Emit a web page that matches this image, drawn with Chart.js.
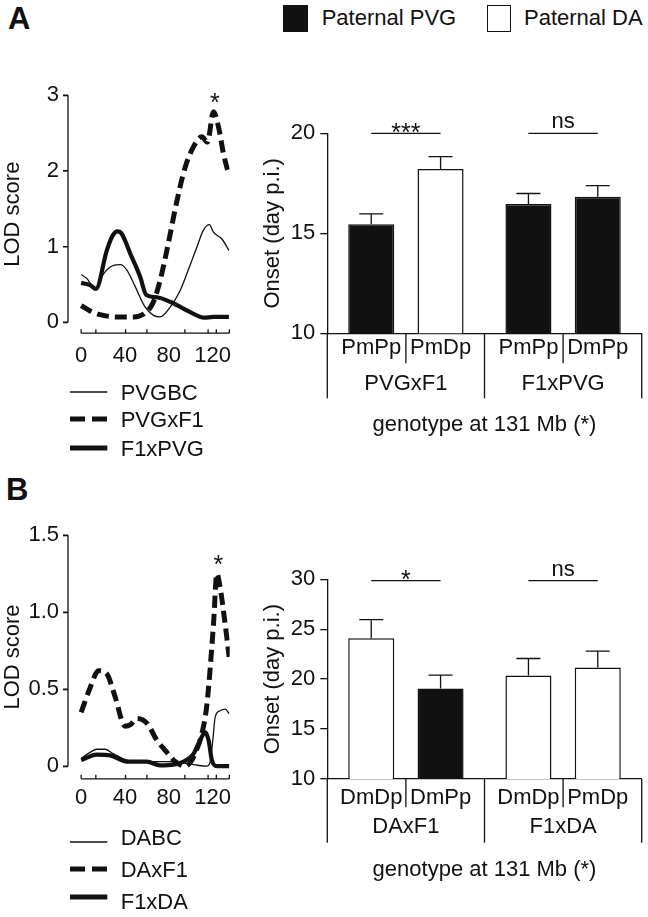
<!DOCTYPE html>
<html>
<head>
<meta charset="utf-8">
<title>LOD score and onset by genotype</title>
<script src="https://cdn.jsdelivr.net/npm/chart.js@4.4.1/dist/chart.umd.min.js"></script>
<style>
html,body{margin:0;padding:0;background:#fff}
body{position:relative;width:648px;height:917px;overflow:hidden;font-family:"Liberation Sans",Arial,Helvetica,sans-serif;color:#111}
.abs{position:absolute}
.txt{position:absolute;font-size:22px;line-height:1;white-space:nowrap}
.panel{position:absolute;font-weight:bold;font-size:31px;line-height:1}
canvas{position:absolute;display:block}
#err{position:absolute;left:250px;top:470px;font-size:11px;color:red;width:390px;white-space:normal}
</style>
</head>
<body>
<div class="panel" style="left:8px;top:3px">A</div>
<div class="panel" style="left:6px;top:474px">B</div>
<div class="abs" style="left:283px;top:5px;width:25px;height:26.5px;background:#111"></div>
<div class="txt" style="left:321.7px;top:6.75px">Paternal PVG</div>
<div class="abs" style="left:486.5px;top:5px;width:24px;height:26.5px;box-sizing:border-box;border:1.5px solid #111;background:#fff"></div>
<div class="txt" style="left:524px;top:6.75px">Paternal DA</div>

<canvas id="lodA" width="245" height="300" style="left:0;top:77.8px;width:245px;height:300px"></canvas>
<canvas id="lodAaxes" width="245" height="300" style="left:0;top:77.8px;width:245px;height:300px;pointer-events:none"></canvas>
<canvas id="onsetA" width="398" height="345" style="left:250px;top:100px;width:398px;height:345px"></canvas>
<canvas id="lodB" width="245" height="300" style="left:0;top:517.5px;width:245px;height:300px"></canvas>
<canvas id="lodBaxes" width="245" height="300" style="left:0;top:517.5px;width:245px;height:300px;pointer-events:none"></canvas>
<canvas id="onsetB" width="398" height="350" style="left:250px;top:540px;width:398px;height:350px"></canvas>
<div id="legends"></div>

<script>
// ================= DATA =================
// marker positions on the chromosome (Mb) and axis tick labels
const markerMb   = [0, 13.4, 40.5, 60, 94.6, 115.8, 123.3, 135.2];
const mbTicks    = [0, 40, 80, 120];
const lodTicksA  = [0, 1, 2, 3];
const lodTicksB  = [0, 0.5, 1.0, 1.5];
const onsetTicksA = [10, 15, 20];
const onsetTicksB = [10, 15, 20, 25, 30];

// Panel A – LOD curves
const seriesA = ['PVGBC', 'PVGxF1', 'F1xPVG'];
const pvgbcMb  = [0, 5, 12.8, 20.4, 29.5, 35.6, 41.7, 49.3, 58.4, 66, 72, 81.2, 90.3, 96.4, 105.5, 111.6, 117, 120.7, 123.8, 128.4, 134.8];
const pvgbcLod = [0.63, 0.58, 0.45, 0.64, 0.75, 0.76, 0.69, 0.47, 0.2, 0.09, 0.07, 0.2, 0.42, 0.64, 0.99, 1.22, 1.29, 1.19, 1.15, 1.1, 0.95];
const pvgxf1Mb  = [0, 8.2, 17.3, 32.6, 47.7, 59.9, 66, 72, 78.2, 87.3, 94.3, 102.5, 110.1, 115.2, 120.7, 125.3, 129.8, 134.8];
const pvgxf1Lod = [0.22, 0.15, 0.1, 0.07, 0.07, 0.14, 0.27, 0.55, 0.95, 1.6, 2.02, 2.32, 2.45, 2.38, 2.78, 2.58, 2.23, 1.94];
const f1xpvgMb  = [0, 8.2, 13.5, 23.4, 29, 33, 37, 44.7, 53.8, 59.4, 69, 81.2, 93.3, 105.5, 111.6, 120.7, 134.8];
const f1xpvgLod = [0.52, 0.49, 0.44, 0.95, 1.15, 1.2, 1.17, 0.91, 0.6, 0.36, 0.33, 0.27, 0.18, 0.09, 0.06, 0.07, 0.07];

// Panel B – LOD curves
const seriesB = ['DABC', 'DAxF1', 'F1xDA'];
const dabcMb  = [0, 8.2, 14.3, 21.9, 29.5, 41.7, 59.9, 81.2, 102.5, 114.7, 117.7, 120.1, 122.3, 126.8, 131.4, 135];
const dabcLod = [0.05, 0.09, 0.11, 0.11, 0.08, 0.04, 0.03, 0.03, 0.01, 0.0, 0.03, 0.17, 0.32, 0.36, 0.37, 0.34];
const daxf1Mb  = [0, 8.2, 15.8, 23.4, 31, 40.1, 45, 50.8, 59.9, 69, 78.2, 85.8, 94.9, 101, 105.5, 110.1, 114.7, 120.7, 123.8, 126.8, 131.4, 135];
const daxf1Lod = [0.35, 0.51, 0.62, 0.6, 0.45, 0.26, 0.27, 0.31, 0.28, 0.17, 0.09, 0.03, 0.0, 0.04, 0.11, 0.21, 0.4, 0.92, 1.25, 1.16, 0.92, 0.71];
const f1xdaMb  = [0, 14.3, 26.5, 41.7, 59.9, 72, 84.2, 93.3, 102.5, 108.6, 113.1, 116.2, 119.2, 123.8, 135];
const f1xdaLod = [0.04, 0.075, 0.07, 0.03, 0.03, 0.005, 0.01, 0.03, 0.08, 0.17, 0.22, 0.17, 0.04, 0.0, 0.0];

// Panel A – onset bars (two genotypes per cross)
const crossesA   = ['PVGxF1', 'F1xPVG'];
const genotypesA = ['PmPp', 'PmDp', 'PmPp', 'DmPp'];
const onsetA     = [15.45, 18.22, 16.47, 16.83];
const semA       = [0.52, 0.61, 0.52, 0.55];
const sigA       = ['***', 'ns'];

// Panel B – onset bars
const crossesB   = ['DAxF1', 'F1xDA'];
const genotypesB = ['DmDp', 'DmPp', 'DmDp', 'PmDp'];
const onsetB     = [24.1, 19.07, 20.37, 21.17];
const semB       = [1.87, 1.33, 1.7, 1.63];
const sigB       = ['*', 'ns'];

// ================= STYLE / HELPERS =================
const FONT = "'Liberation Sans', Arial, sans-serif";
const INK = '#111';
Chart.defaults.font.family = FONT;
Chart.defaults.font.size = 22;
Chart.defaults.color = INK;

function report(msg) {
  let d = document.getElementById('err');
  if (!d) { d = document.createElement('div'); d.id = 'err'; document.body.appendChild(d); }
  d.textContent += ' ' + msg;
}

const lineStyles = [
  {w: 1.3, dash: []},
  {w: 5,   dash: [12, 6]},
  {w: 4.2, dash: []}
];

function lodDatasets(names, xsArr, ysArr) {
  return names.map((n, i) => ({
    label: n,
    data: xsArr[i].map((x, j) => ({x: x, y: ysArr[i][j]})),
    borderColor: INK,
    borderWidth: lineStyles[i].w,
    borderDash: lineStyles[i].dash,
    pointRadius: 0,
    fill: false,
    cubicInterpolationMode: 'monotone'
  }));
}

// detached GraphPad-style axes drawn from the chart's own scales onto an overlay canvas
function drawLodAxes(chart, overlayId, markers, peakDataset, tickLen) {
  const ov = document.getElementById(overlayId);
  const ctx = ov.getContext('2d');
  const xs = chart.scales.x, ys = chart.scales.y;
  const left = chart.chartArea.left, bottom = chart.chartArea.bottom;
  ctx.clearRect(0, 0, ov.width, ov.height);
  ctx.strokeStyle = INK;
  ctx.fillStyle = INK;
  ctx.lineWidth = 1.3;
  ctx.beginPath();
  ctx.moveTo(left, ys.getPixelForValue(0));
  ctx.lineTo(left, ys.getPixelForValue(ys.max));
  ys.ticks.forEach(t => {
    const y = ys.getPixelForValue(t.value);
    ctx.moveTo(left, y); ctx.lineTo(left - 5, y);
  });
  ctx.moveTo(xs.getPixelForValue(markers[0]), bottom);
  ctx.lineTo(xs.getPixelForValue(markers[markers.length - 1]), bottom);
  markers.forEach(v => {
    const x = xs.getPixelForValue(v);
    ctx.moveTo(x, bottom); ctx.lineTo(x, bottom - tickLen);
  });
  ctx.stroke();
  // asterisk above the highest point of the marked curve
  const pts = chart.data.datasets[peakDataset].data;
  let best = pts[0];
  pts.forEach(p => { if (p.y > best.y) best = p; });
  ctx.font = '25px ' + FONT;
  ctx.textAlign = 'center'; ctx.textBaseline = 'alphabetic';
  ctx.fillText('*', xs.getPixelForValue(best.x) + 1.5, ys.getPixelForValue(best.y) - 0.5);
}

function lodChart(id, datasets, ticks, yMin, xHeight, xPad, fmt) {
  return new Chart(document.getElementById(id), {
    type: 'line',
    data: {datasets},
    options: {
      responsive: false, animation: false,
      layout: {padding: {top: 0, right: 15.3, left: 0, bottom: 0}},
      plugins: {legend: {display: false}, tooltip: {enabled: false}},
      scales: {
        x: {type: 'linear', min: -12, max: 135.5,
          grid: {display: false, drawTicks: false}, border: {display: false},
          afterBuildTicks: s => { s.ticks = mbTicks.map(v => ({value: v})); },
          afterFit: s => { s.height = xHeight; },
          ticks: {padding: xPad, maxRotation: 0, autoSkip: false, font: {size: 22}}},
        y: {type: 'linear', min: yMin, max: ticks[ticks.length - 1],
          grid: {drawOnChartArea: false, drawTicks: true, tickLength: 5, color: INK, lineWidth: 1.3},
          border: {display: false},
          afterBuildTicks: s => { s.ticks = ticks.map(v => ({value: v})); },
          afterFit: s => { s.width = 68; },
          ticks: {padding: 4, font: {size: 22}, callback: fmt},
          title: {display: true, text: 'LOD score', font: {size: 22}, padding: {top: 0, bottom: 0}}}
      }
    }
  });
}

const barDecor = {
  id: 'barDecor',
  afterDatasetsDraw(chart, args, o) {
    const ctx = chart.ctx, ys = chart.scales.y;
    ctx.save();
    ctx.strokeStyle = INK; ctx.lineWidth = 1.3;
    ctx.beginPath();
    chart.data.datasets.forEach((ds, di) => {
      chart.getDatasetMeta(di).data.forEach((el, i) => {
        const top = ys.getPixelForValue(ds.data[i] + ds.sem[i]);
        ctx.moveTo(el.x, el.y); ctx.lineTo(el.x, top);
        ctx.moveTo(el.x - o.cap / 2, top); ctx.lineTo(el.x + o.cap / 2, top);
      });
    });
    ctx.stroke();
    const m0 = chart.getDatasetMeta(0).data, m1 = chart.getDatasetMeta(1).data;
    const yLine = ys.getPixelForValue(ys.max) + o.sigOffset;
    ctx.fillStyle = INK;
    ctx.textAlign = 'center'; ctx.textBaseline = 'alphabetic';
    o.sig.forEach((s, i) => {
      const x1 = m0[i].x, x2 = m1[i].x;
      ctx.beginPath(); ctx.moveTo(x1, yLine); ctx.lineTo(x2, yLine); ctx.stroke();
      const star = /^\*+$/.test(s);
      ctx.font = (star ? '25px ' : '22px ') + FONT;
      ctx.fillText(s, (x1 + x2) / 2, star ? yLine + 7.5 : yLine - 5);
    });
    ctx.restore();
  },
  afterDraw(chart, args, o) {
    const ctx = chart.ctx, xs = chart.scales.x;
    const {left, right, bottom} = chart.chartArea;
    ctx.save();
    ctx.strokeStyle = INK; ctx.lineWidth = 1.3;
    ctx.beginPath();
    ctx.moveTo(left, bottom); ctx.lineTo(left, bottom + o.groupLine);
    ctx.moveTo(right, bottom); ctx.lineTo(right, bottom + o.groupLine);
    const n = xs.ticks.length;
    for (let i = 1; i < n; i++) {
      const xb = (xs.getPixelForTick(i - 1) + xs.getPixelForTick(i)) / 2;
      ctx.moveTo(xb, bottom); ctx.lineTo(xb, bottom + o.groupLine);
    }
    for (let i = 0; i < n; i++) {
      const xc = xs.getPixelForTick(i);
      ctx.moveTo(xc, bottom); ctx.lineTo(xc, bottom + o.subLine);
    }
    ctx.stroke();
    ctx.fillStyle = INK; ctx.font = '22px ' + FONT;
    ctx.textAlign = 'center'; ctx.textBaseline = 'middle';
    chart.data.datasets.forEach((ds, di) => {
      chart.getDatasetMeta(di).data.forEach((el, i) => {
        ctx.fillText(ds.genotype[i], el.x, bottom + o.subOffset);
      });
    });
    ctx.restore();
  }
};

function onsetChart(id, crosses, genotypes, onset, sem, sig, ticks, padTop, xHeight, lay) {
  const mk = k => ({
    label: 'genotype ' + (k + 1),
    data: crosses.map((c, i) => onset[2 * i + k]),
    sem: crosses.map((c, i) => sem[2 * i + k]),
    genotype: crosses.map((c, i) => genotypes[2 * i + k]),
    backgroundColor: crosses.map((c, i) => genotypes[2 * i + k].endsWith('Pp') ? INK : '#fff'),
    borderColor: INK, borderWidth: 1.5, borderSkipped: 'start',
    categoryPercentage: 0.882, barPercentage: 0.664
  });
  return new Chart(document.getElementById(id), {
    type: 'bar',
    data: {labels: crosses, datasets: [mk(0), mk(1)]},
    options: {
      responsive: false, animation: false,
      layout: {padding: {top: padTop, right: 6.3, left: 0, bottom: 0}},
      plugins: {legend: {display: false}, tooltip: {enabled: false},
        barDecor: Object.assign({sig: sig, cap: 24}, lay)},
      scales: {
        x: {grid: {display: false, drawTicks: false},
          border: {display: true, color: INK, width: 1.3},
          afterFit: s => { s.height = xHeight; },
          ticks: {padding: lay.groupPad, maxRotation: 0, autoSkip: false, font: {size: 22}},
          title: {display: true, text: 'genotype at 131 Mb (*)', font: {size: 22}, padding: {top: 0, bottom: 7}}},
        y: {min: ticks[0], max: ticks[ticks.length - 1],
          grid: {drawOnChartArea: false, drawTicks: true, tickLength: 7, color: INK, lineWidth: 1.3},
          border: {display: true, color: INK, width: 1.3},
          afterBuildTicks: s => { s.ticks = ticks.map(v => ({value: v})); },
          afterFit: s => { s.width = 77.3; },
          ticks: {padding: 5, font: {size: 22}},
          title: {display: true, text: 'Onset (day p.i.)', font: {size: 22}, padding: {top: 10, bottom: 0}}}
      }
    },
    plugins: [barDecor]
  });
}

// ================= CHARTS =================
try {
  const cA = lodChart('lodA', lodDatasets(seriesA, [pvgbcMb, pvgxf1Mb, f1xpvgMb], [pvgbcLod, pvgxf1Lod, f1xpvgLod]),
    lodTicksA, -0.145, 44.8, 9.6, v => String(v));
  drawLodAxes(cA, 'lodAaxes', markerMb, 1, 4);
  const cB = lodChart('lodB', lodDatasets(seriesB, [dabcMb, daxf1Mb, f1xdaMb], [dabcLod, daxf1Lod, f1xdaLod]),
    lodTicksB, -0.0818, 39.2, 5.5, v => v === 0 ? '0' : v.toFixed(1));
  drawLodAxes(cB, 'lodBaxes', markerMb, 1, 4);
  onsetChart('onsetA', crossesA, genotypesA, onsetA, semA, sigA, onsetTicksA, 33.3, 111.7,
    {groupPad: 37.5, subOffset: 14.7, subLine: 30, groupLine: 65, sigOffset: 0});
  onsetChart('onsetB', crossesB, genotypesB, onsetB, semB, sigB, onsetTicksB, 39.3, 111,
    {groupPad: 34.5, subOffset: 18.5, subLine: 28.3, groupLine: 63.7, sigOffset: 1.4});
  // self-check: the overlay axis must actually contain ink
  ['lodAaxes', 'lodBaxes'].forEach(id => {
    const c = document.getElementById(id), ch = Chart.getChart(id.replace('axes', ''));
    const px = c.getContext('2d').getImageData(Math.round(ch.chartArea.left), Math.round(ch.chartArea.top + 60), 1, 1).data;
    if (px[3] < 60) report(id + ' axis ink missing ' + Array.from(px).join(','));
  });
} catch (e) { report(e.message); }

// ================= LINE LEGENDS (HTML) =================
function lineLegend(names, textY, lineY) {
  const host = document.getElementById('legends');
  names.forEach((n, i) => {
    const st = lineStyles[i];
    const svg = document.createElementNS('http://www.w3.org/2000/svg', 'svg');
    svg.setAttribute('width', '38'); svg.setAttribute('height', '10');
    svg.setAttribute('class', 'abs');
    svg.style.left = '70px'; svg.style.top = (lineY[i] - 5) + 'px';
    const ln = document.createElementNS('http://www.w3.org/2000/svg', 'line');
    ln.setAttribute('x1', '0'); ln.setAttribute('x2', '37.3');
    ln.setAttribute('y1', '5'); ln.setAttribute('y2', '5');
    ln.setAttribute('stroke', INK);
    ln.setAttribute('stroke-width', i === 0 ? '1.3' : '5');
    if (st.dash.length) ln.setAttribute('stroke-dasharray', '15 7');
    svg.appendChild(ln);
    host.appendChild(svg);
    const t = document.createElement('div');
    t.className = 'txt';
    t.style.left = '120.7px';
    t.style.top = (textY[i] - 10.75) + 'px';
    t.textContent = n;
    host.appendChild(t);
  });
}
lineLegend(seriesA, [392.5, 419.5, 449], [391.7, 419.3, 447.7]);
lineLegend(seriesB, [837.5, 869.5, 902], [841.7, 869, 896.7]);
</script>
</body>
</html>
